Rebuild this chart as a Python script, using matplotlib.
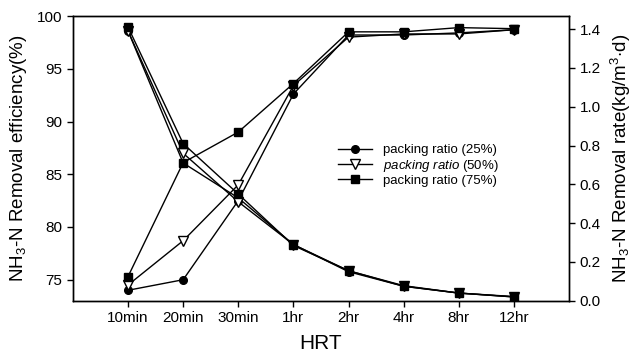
import matplotlib
matplotlib.use("Agg")
import matplotlib.pyplot as plt

plt.rcParams['font.family'] = ['Liberation Sans', 'DejaVu Sans']
plt.rcParams['mathtext.fontset'] = 'custom'
plt.rcParams['mathtext.rm'] = 'Liberation Sans'
plt.rcParams['mathtext.it'] = 'Liberation Sans:italic'

hrt = ['10min', '20min', '30min', '1hr', '2hr', '4hr', '8hr', '12hr']

# removal efficiency (%), left axis
eff_25 = [74.0, 75.0, 82.5, 92.6, 98.2, 98.2, 98.4, 98.7]
eff_50 = [74.5, 78.7, 84.0, 93.4, 98.0, 98.3, 98.3, 98.7]
eff_75 = [75.3, 86.1, 89.0, 93.6, 98.5, 98.5, 98.9, 98.8]

# removal rate (kg/m3.d), right axis
rate_25 = [1.39, 0.71, 0.53, 0.29, 0.15, 0.075, 0.04, 0.02]
rate_50 = [1.39, 0.76, 0.51, 0.29, 0.155, 0.075, 0.04, 0.02]
rate_75 = [1.41, 0.81, 0.55, 0.285, 0.155, 0.078, 0.04, 0.022]

labels = ['packing ratio (25%)', r'$\it{packing\ ratio}$ (50%)', 'packing ratio (75%)']

fig = plt.figure(figsize=(6.34, 3.56), dpi=100)
ax = fig.add_axes([0.115, 0.155, 0.7825, 0.80])
ax2 = ax.twinx()

x = list(range(len(hrt)))
styles = [
    dict(marker='o', markersize=5.5, markerfacecolor='black'),
    dict(marker='v', markersize=6.5, markerfacecolor='white'),
    dict(marker='s', markersize=6, markerfacecolor='black'),
]

handles = []
for vals, st, lab in zip([eff_25, eff_50, eff_75], styles, labels):
    h, = ax.plot(x, vals, color='black', linewidth=1.0, markeredgecolor='black',
                 markeredgewidth=1.0, label=lab, **st)
    handles.append(h)
for vals, st in zip([rate_25, rate_50, rate_75], styles):
    ax2.plot(x, vals, color='black', linewidth=1.0, markeredgecolor='black',
             markeredgewidth=1.0, **st)

ax.set_xlim(-1, 8)
ax.set_ylim(73, 100)
ax2.set_ylim(0, 1.467)
ax.set_xticks(x)
ax.set_xticklabels(hrt)
ax.set_yticks([75, 80, 85, 90, 95, 100])
ax2.set_yticks([0.0, 0.2, 0.4, 0.6, 0.8, 1.0, 1.2, 1.4])
ax2.set_yticklabels([f'{v:.1f}' for v in ax2.get_yticks()])

for a in (ax, ax2):
    a.tick_params(direction='out', length=4, width=1, labelsize=11, colors='black')
    for s in a.spines.values():
        s.set_linewidth(1.0)

ax.set_xlabel('HRT', fontsize=15, labelpad=6)
ax.set_ylabel(r'NH$_3$-N Removal efficiency(%)', fontsize=13.5, labelpad=6)
ax2.set_ylabel(r'NH$_3$-N Removal rate(kg/m$^3$$\cdot$d)', fontsize=13.5, labelpad=6)

ax.legend(handles=handles, loc='center left', bbox_to_anchor=(0.51, 0.475),
          frameon=False, fontsize=9.5, handlelength=2.6, labelspacing=0.1,
          handletextpad=0.8)

fig.savefig('out.png', dpi=100)
